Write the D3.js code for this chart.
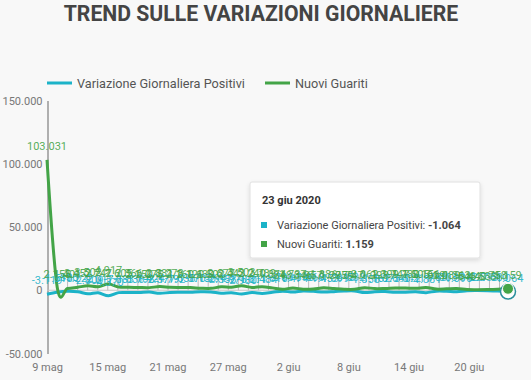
<!DOCTYPE html>
<html>
<head>
<meta charset="utf-8">
<script src="https://cdn.jsdelivr.net/npm/d3@7"></script>
<style>
  body { margin: 0; background: #f8f8f8; }
  svg { display: block; font-family: Roboto, "Noto Sans", sans-serif; }
</style>
</head>
<body>
<svg width="531" height="380"></svg>
<script>
// dati: 9 maggio -> 23 giugno 2020
const startDate = new Date(2020, 4, 9);
const variazionePositivi = [
  -3119, -1518, -836, -1222, -2809, -2017, -4370, -1883, -1836, -1798,
  -1424, -2377, -1792, -1638, -1570, -1158, -1294, -2358, -1976, -2980,
  -1811, -2484, -1616, -708, -1474, -596, -868, -1453, -1099, -615,
  -532, -1858, -1162, -1073, -1640, -1512, -1211, -1881, -753, -803,
  -1096, -342, -227, -333, -580, -1064
];
const nuoviGuariti = [
  103031, 2155, 1401, 2452, 3502, 2747, 4917, 2605, 2366, 2150,
  2075, 2881, 2278, 2160, 2120, 1639, 1502, 2677, 2443, 3503,
  2240, 2789, 1874, 848, 1737, 846, 957, 1886, 1297, 759,
  747, 2062, 1293, 1399, 1747, 1780, 1505, 2156, 929, 1089,
  1363, 546, 440, 533, 758, 1159
];
const dates = variazionePositivi.map((_, i) => d3.timeDay.offset(startDate, i));
const yTicks = [150000, 100000, 50000, 0, -50000];
const xTickDates = [0, 6, 12, 18, 24, 30, 36, 42].map(i => dates[i]);
const seriesNames = ["Variazione Giornaliera Positivi", "Nuovi Guariti"];
const colors = ["#1cb3c8", "#43a447"];

const mesi = ["gen", "feb", "mar", "apr", "mag", "giu", "lug", "ago", "set", "ott", "nov", "dic"];
const it = d3.formatLocale({ decimal: ",", thousands: ".", grouping: [3], currency: ["€", ""], minus: "-" });
const fmt = it.format(",d");
const fmtDay = d => `${d.getDate()} ${mesi[d.getMonth()]}`;

const svg = d3.select("svg");

// titolo
svg.append("text")
  .attr("x", 261).attr("y", 21)
  .attr("text-anchor", "middle")
  .attr("font-size", 21.2).attr("font-weight", "bold")
  .attr("fill", "#444")
  .text("TREND SULLE VARIAZIONI GIORNALIERE");

// legenda
const legendX = [47, 265];
seriesNames.forEach((name, i) => {
  svg.append("line")
    .attr("x1", legendX[i]).attr("x2", legendX[i] + 25)
    .attr("y1", 83).attr("y2", 83)
    .attr("stroke", colors[i]).attr("stroke-width", 3);
  svg.append("text")
    .attr("x", legendX[i] + 30).attr("y", 87.5)
    .attr("font-size", 12.7).attr("fill", "#555")
    .text(name);
});

// scale
const x = d3.scaleTime().domain([dates[0], dates[dates.length - 1]]).range([47, 508]);
const xAxisScale = d3.scaleTime().domain([dates[0], dates[dates.length - 1]]).range([47, 499]);
const y = d3.scaleLinear().domain([-50000, 150000]).range([353.5, 100.5]);

// asse y
svg.append("g")
  .attr("transform", "translate(47.5,0)")
  .call(d3.axisLeft(y).tickValues(yTicks).tickFormat(fmt).tickSize(0).tickPadding(5))
  .call(g => g.select(".domain").attr("stroke", "#666"))
  .call(g => g.selectAll("text").attr("font-size", 11).attr("fill", "#777").attr("font-family", "Roboto"));

// asse x (etichette)
svg.append("g")
  .attr("transform", "translate(0,360)")
  .call(d3.axisBottom(xAxisScale).tickValues(xTickDates).tickFormat(fmtDay).tickSize(0).tickPadding(3))
  .call(g => g.select(".domain").remove())
  .call(g => g.selectAll("text").attr("font-size", 11).attr("fill", "#777").attr("font-family", "Roboto"));

// linea dello zero e tacche
svg.append("line")
  .attr("x1", 47).attr("x2", 508)
  .attr("y1", y(0)).attr("y2", y(0))
  .attr("stroke", "#c8c8c8");
svg.append("g").selectAll("line")
  .data(dates)
  .join("line")
  .attr("x1", d => xAxisScale(d) + 0.5).attr("x2", d => xAxisScale(d) + 0.5)
  .attr("y1", y(0) - 15).attr("y2", y(0))
  .attr("stroke", "#bbb");

// linee
const series = [variazionePositivi, nuoviGuariti];
const line = d3.line()
  .x((d, i) => x(dates[i]))
  .y(d => y(d))
  .curve(d3.curveCatmullRom.alpha(0));

series.forEach((vals, s) => {
  svg.append("path")
    .datum(vals)
    .attr("fill", "none")
    .attr("stroke", colors[s])
    .attr("stroke-width", 3)
    .attr("d", line);
});

// etichette dei valori
series.forEach((vals, s) => {
  svg.append("g").selectAll("text")
    .data(vals)
    .join("text")
    .attr("x", (d, i) => x(dates[i]))
    .attr("y", d => y(d) - 10)
    .attr("text-anchor", "middle")
    .attr("font-size", 11)
    .attr("fill", colors[s])
    .attr("fill-opacity", 0.9)
    .text(d => fmt(d));
});

// marker ultimo punto
const last = dates.length - 1;
svg.append("circle")
  .attr("cx", x(dates[last])).attr("cy", y(variazionePositivi[last]))
  .attr("r", 7.5).attr("fill", "#fff").attr("stroke", "#2a8f9c").attr("stroke-width", 1.5);
svg.append("circle")
  .attr("cx", x(dates[last])).attr("cy", y(nuoviGuariti[last]))
  .attr("r", 5.5).attr("fill", colors[1]).attr("stroke", "#fff").attr("stroke-width", 1);

// tooltip
const defs = svg.append("defs");
const f = defs.append("filter").attr("id", "shadow").attr("x", "-10%").attr("y", "-10%").attr("width", "120%").attr("height", "130%");
f.append("feDropShadow").attr("dx", 0).attr("dy", 2).attr("stdDeviation", 2).attr("flood-color", "#000").attr("flood-opacity", 0.12);

const tip = svg.append("g").attr("transform", "translate(250,182)");
tip.append("rect")
  .attr("width", 230).attr("height", 76).attr("rx", 2)
  .attr("fill", "#fff").attr("stroke", "#e0e0e0")
  .attr("filter", "url(#shadow)");
tip.append("text")
  .attr("x", 12).attr("y", 22)
  .attr("font-size", 11).attr("font-weight", "bold").attr("fill", "#333")
  .text(`${fmtDay(dates[last])} ${dates[last].getFullYear()}`);
seriesNames.forEach((name, i) => {
  const vals = series[i];
  tip.append("rect")
    .attr("x", 11).attr("y", 40 + i * 19)
    .attr("width", 6).attr("height", 6)
    .attr("fill", colors[i]);
  const t = tip.append("text")
    .attr("x", 27).attr("y", 47 + i * 19)
    .attr("font-size", 11).attr("fill", "#444");
  t.append("tspan").text(name + ": ");
  t.append("tspan").attr("font-weight", "bold").text(fmt(vals[last]));
});
</script>
</body>
</html>
